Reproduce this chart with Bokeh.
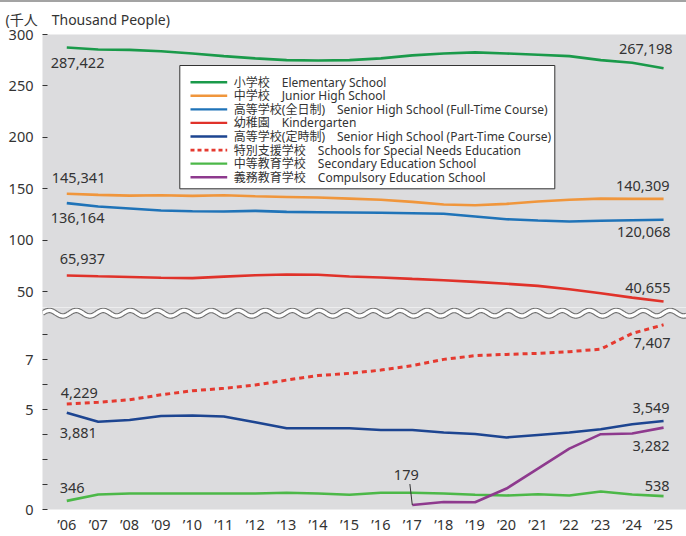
from bokeh.plotting import figure
from bokeh.models import (ColumnDataSource, Range1d, FixedTicker, BoxAnnotation, Arrow, Label, Div)
from bokeh.layouts import column
from bokeh.embed import file_html
from bokeh.resources import INLINE
from bokeh.core.properties import value
import numpy as np

# ---------------- data (thousand people) ----------------
years = list(range(2006, 2026))
year_labels = ["’06", "’07", "’08", "’09", "’10", "’11", "’12", "’13", "’14", "’15",
               "’16", "’17", "’18", "’19", "’20", "’21", "’22", "’23", "’24", "’25"]

elementary = [287.422, 285.5, 285.1, 283.8, 281.6, 279.0, 276.8, 275.1, 274.8, 275.1,
              276.8, 279.7, 281.6, 282.6, 281.6, 280.3, 279.0, 275.1, 272.5, 267.198]
junior_high = [145.341, 144.2, 143.5, 143.8, 143.2, 143.8, 142.8, 142.2, 141.6, 140.6,
               139.4, 137.4, 134.8, 134.1, 135.5, 137.7, 139.4, 140.6, 140.3, 140.309]
senior_full = [136.164, 132.9, 131.0, 129.0, 128.3, 128.0, 128.7, 127.7, 127.4, 127.1,
               126.8, 126.4, 125.8, 123.2, 120.6, 119.3, 118.4, 119.0, 119.6, 120.068]
kindergarten = [65.937, 65.1, 64.4, 63.7, 63.3, 64.8, 66.1, 66.8, 66.6, 64.9,
                64.0, 62.6, 61.3, 59.7, 57.8, 55.8, 52.6, 48.6, 44.4, 40.655]
senior_part = [3.881, 3.52, 3.59, 3.75, 3.77, 3.73, 3.50, 3.26, 3.26, 3.26,
               3.19, 3.19, 3.09, 3.03, 2.89, 2.99, 3.09, 3.22, 3.42, 3.549]
special_needs = [4.229, 4.30, 4.40, 4.60, 4.76, 4.86, 4.99, 5.19, 5.37, 5.46,
                 5.59, 5.77, 6.02, 6.17, 6.22, 6.26, 6.33, 6.43, 7.06, 7.407]
secondary = [0.346, 0.60, 0.64, 0.64, 0.64, 0.64, 0.64, 0.67, 0.64, 0.59,
             0.67, 0.67, 0.64, 0.59, 0.56, 0.61, 0.56, 0.72, 0.60, 0.538]
compulsory_years = [2017, 2018, 2019, 2020, 2021, 2022, 2023, 2024, 2025]
compulsory = [0.179, 0.30, 0.29, 0.84, 1.64, 2.44, 3.02, 3.05, 3.282]

upper_ticks = [50, 100, 150, 200, 250, 300]
lower_ticks = [0, 1, 2, 3, 4, 5, 6, 7]
lower_tick_labels = ["0", "", "", "", "5", "", "7", ""]

title_text = "(千人　Thousand People)"
legend_labels = [
    "小学校　Elementary School",
    "中学校　Junior High School",
    "高等学校(全日制)　Senior High School (Full-Time Course)",
    "幼稚園　Kindergarten",
    "高等学校(定時制)　Senior High School (Part-Time Course)",
    "特別支援学校　Schools for Special Needs Education",
    "中等教育学校　Secondary Education School",
    "義務教育学校　Compulsory Education School",
]

# ---------------- style ----------------
FONT = "'Noto Sans', 'Noto Sans CJK JP'"
BG = "#dcdcde"
TXT = "#333333"
C_ELEM = "#1a9a4a"
C_JUN = "#f0963c"
C_SFULL = "#1f73b8"
C_KIND = "#e0322a"
C_SPART = "#1d4591"
C_SPEC = "#e53a30"
C_SEC = "#4cb848"
C_COMP = "#8e3a8e"
LW = 2.6
SPEC_DASH = "5 4"

legend_styles = [(C_ELEM, "solid"), (C_JUN, "solid"), (C_SFULL, "solid"), (C_KIND, "solid"),
                 (C_SPART, "solid"), (C_SPEC, "4 3"), (C_SEC, "solid"), (C_COMP, "solid")]

W = 686
LEFT = 42
X_RANGE = Range1d(2005.227, 2025.73)

RULE_H = 2
UP_H = 307 - RULE_H
UP_TOP = 33 - RULE_H
LO_H = 229
LO_BOTTOM = 27
LO_TOP = 8.1

top_rule = Div(text="", width=W, height=RULE_H, margin=0,
               styles={"background-color": "#a3a3a3"})

upper = figure(width=W, height=UP_H, x_range=X_RANGE, y_range=Range1d(34.8, 300),
               output_backend="svg", toolbar_location=None, x_axis_location=None,
               min_border_left=LEFT, min_border_right=0, min_border_top=UP_TOP, min_border_bottom=0,
               background_fill_color=BG, outline_line_color=None, title=title_text)
lower = figure(width=W, height=LO_H, x_range=X_RANGE, y_range=Range1d(0, LO_TOP),
               output_backend="svg", toolbar_location=None,
               min_border_left=LEFT, min_border_right=0, min_border_top=0, min_border_bottom=LO_BOTTOM,
               background_fill_color=BG, outline_line_color=None)

upper.title.text_font = FONT
upper.title.text_font_size = "14px"
upper.title.text_font_style = "normal"
upper.title.text_color = TXT
upper.title.align = "left"
upper.title.offset = -37
upper.title.standoff = 11

for p in (upper, lower):
    p.xgrid.visible = False
    p.ygrid.visible = False
    ax = p.yaxis[0]
    ax.axis_line_color = None
    ax.major_tick_in = 5
    ax.major_tick_out = 0
    ax.major_tick_line_color = TXT
    ax.minor_tick_line_color = None
    ax.major_label_standoff = 9
    ax.major_label_text_font = FONT
    ax.major_label_text_font_size = "14.5px"
    ax.major_label_text_color = TXT

upper.yaxis[0].ticker = FixedTicker(ticks=upper_ticks)
lower.yaxis[0].ticker = FixedTicker(ticks=lower_ticks)
lower.yaxis[0].major_label_overrides = {t: l for t, l in zip(lower_ticks, lower_tick_labels)}

xa = lower.xaxis[0]
xa.ticker = FixedTicker(ticks=years)
xa.major_label_overrides = {y: l for y, l in zip(years, year_labels)}
xa.axis_line_color = None
xa.major_tick_in = 0
xa.major_tick_out = 0
xa.minor_tick_line_color = None
xa.major_label_standoff = 4
xa.major_label_text_font = FONT
xa.major_label_text_font_size = "14.5px"
xa.major_label_text_color = TXT

# upper series
upper.line(years, elementary, color=C_ELEM, line_width=LW)
upper.line(years, junior_high, color=C_JUN, line_width=LW)
upper.line(years, senior_full, color=C_SFULL, line_width=LW)
upper.line(years, kindergarten, color=C_KIND, line_width=LW)
# lower series
lower.line(years, secondary, color=C_SEC, line_width=LW)
lower.line(compulsory_years, compulsory, color=C_COMP, line_width=LW)
lower.line(years, senior_part, color=C_SPART, line_width=LW)
lower.line(years, special_needs, color=C_SPEC, line_width=3, line_dash=SPEC_DASH)

# ---------------- legend (screen units, relative to the upper frame) ----------------
LG_LEFT, LG_RIGHT, LG_TOP, LG_BOTTOM = 137.3, 512.3, 242.0, 118.7
ROW0, ROW_STEP = 225.3, 13.57
SAMPLE_X0, SAMPLE_X1, TEXT_X = 148.0, 184.7, 191.3

upper.add_layout(BoxAnnotation(left=LG_LEFT, right=LG_RIGHT, top=LG_TOP, bottom=LG_BOTTOM,
                               left_units="screen", right_units="screen",
                               top_units="screen", bottom_units="screen",
                               fill_color="white", fill_alpha=1.0,
                               line_color=TXT, line_width=1, line_alpha=1.0))
for i, (lab, (col, dash)) in enumerate(zip(legend_labels, legend_styles)):
    ry = ROW0 - i * ROW_STEP
    upper.add_layout(Arrow(end=None, x_start=SAMPLE_X0, y_start=ry, x_end=SAMPLE_X1, y_end=ry,
                           start_units="screen", end_units="screen",
                           line_color=col, line_width=2.4 if dash == "solid" else 2.8,
                           line_dash=dash))
    upper.add_layout(Label(x=TEXT_X, y=ry, x_units="screen", y_units="screen", text=lab,
                           text_baseline="middle", text_align="left",
                           text_font=FONT, text_font_size="12px", text_color=TXT))

# ---------------- value labels ----------------
def fmt(v):
    return f"{round(v * 1000):,}"

# (series, x list, index, align, dx px, dy px)
upper_specs = [
    (elementary, years, 0, "left", -16, 16),
    (elementary, years, -1, "right", 9, -19),
    (junior_high, years, 0, "left", -15, -16),
    (junior_high, years, -1, "right", 6, -13),
    (senior_full, years, 0, "left", -16, 15),
    (senior_full, years, -1, "right", 7, 12),
    (kindergarten, years, 0, "left", -7, -16),
    (kindergarten, years, -1, "right", 7, -13),
]
lower_specs = [
    (special_needs, years, 0, "left", -6, -11),
    (special_needs, years, -1, "right", 7, 18),
    (senior_part, years, 0, "left", -7, 20),
    (senior_part, years, -1, "right", 6, -13),
    (compulsory, compulsory_years, -1, "right", 6, 18),
    (secondary, years, 0, "left", -7, -13),
    (secondary, years, -1, "right", 6, -10),
    (compulsory, compulsory_years, 0, "center", -6, -30),
]

def add_labels(p, specs):
    for align in ("left", "right", "center"):
        sel = [s for s in specs if s[3] == align]
        if not sel:
            continue
        src = ColumnDataSource(dict(
            x=[s[1][s[2]] for s in sel],
            y=[s[0][s[2]] for s in sel],
            text=[fmt(s[0][s[2]]) for s in sel],
            dx=[s[4] for s in sel],
            dy=[s[5] for s in sel],
        ))
        p.text(x="x", y="y", text="text", source=src, x_offset="dx", y_offset="dy",
               text_align=align, text_baseline="middle", text_color=TXT,
               text_font=value(FONT), text_font_size=value("14.5px"))

add_labels(upper, upper_specs)
add_labels(lower, lower_specs)

# leader line for the first compulsory-school value
px_per_unit = (LO_H - LO_BOTTOM) / LO_TOP
px_per_year = (W - LEFT) / (X_RANGE.end - X_RANGE.start)
lower.segment(x0=[compulsory_years[0]], y0=[compulsory[0]],
              x1=[compulsory_years[0] - 2.4 / px_per_year], y1=[compulsory[0] + 21 / px_per_unit],
              line_color=TXT, line_width=1)

# ---------------- axis break wave ----------------
wave_y = 196.3 / px_per_unit
wave_amp = 2.8 / px_per_unit
period = 27 / px_per_year
wx = np.linspace(X_RANGE.start, X_RANGE.end, 600)
wy = wave_y + wave_amp * np.sin(2 * np.pi * (wx - wx[0]) / period)
lower.line(wx, wy, color="#707070", line_width=5.5)
lower.line(wx, wy, color="white", line_width=3.3)

layout = column(top_rule, upper, lower, spacing=0)
open("out.html", "w").write(file_html(layout, INLINE))
